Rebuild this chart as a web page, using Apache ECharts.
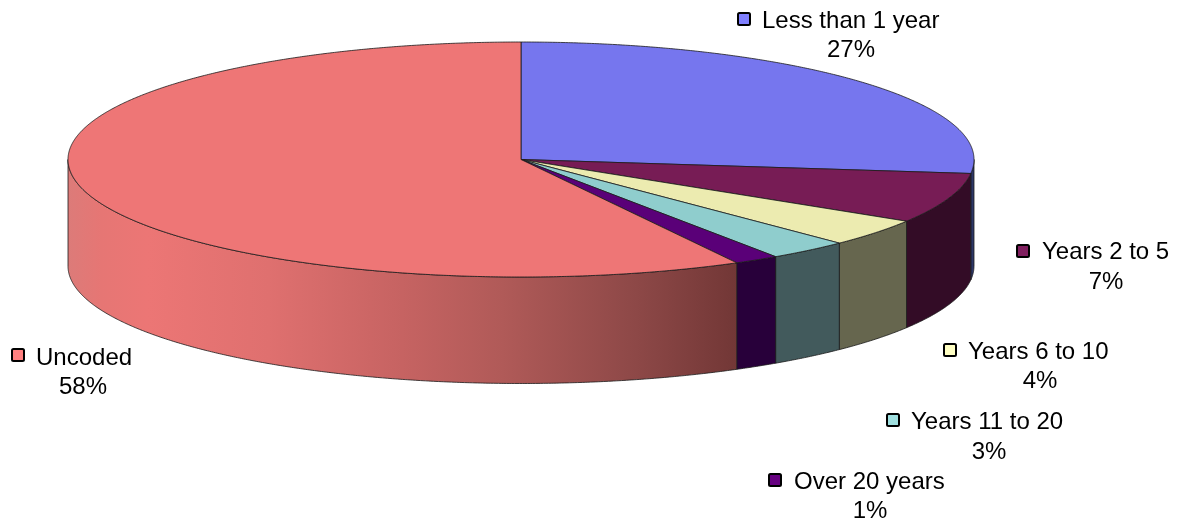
<!DOCTYPE html>
<html>
<head>
<meta charset="utf-8">
<style>html,body{margin:0;padding:0;background:#fff}#c{width:1182px;height:521px}</style>
<script src="https://cdn.jsdelivr.net/npm/echarts@6/dist/echarts.min.js"></script>
</head>
<body>
<div id="c"></div>
<script>
// Data
const categories = ['Less than 1 year', 'Years 2 to 5', 'Years 6 to 10', 'Years 11 to 20', 'Over 20 years', 'Uncoded'];
const shares = [26.9, 6.9, 3.8, 2.9, 1.6, 57.9];
const percentLabels = ['27%', '7%', '4%', '3%', '1%', '58%'];

// Styles and layout
const topColors = ['#7676ee', '#771c55', '#ecebb0', '#8fcdcd', '#5a0078', '#ee7676'];
const wallColors = ['#2d3768', '#330c26', '#66664e', '#425a5c', '#28003a', null];
const swatchColors = ['#8080ff', '#801f5f', '#ffffc4', '#a0e0e0', '#660080', '#ff8080'];
const labelSpots = [
  {sx: 737, sy: 12, tx: 762, ty: 21, px: 851, py: 50},
  {sx: 1016, sy: 244, tx: 1042, ty: 252, px: 1106, py: 282},
  {sx: 943, sy: 343, tx: 968, ty: 352, px: 1040, py: 381},
  {sx: 886, sy: 413, tx: 911, ty: 422, px: 989, py: 452},
  {sx: 768, sy: 473, tx: 794, ty: 482, px: 870, py: 511},
  {sx: 11, sy: 348, tx: 36, ty: 358, px: 83, py: 387}
];
const CX = 521, CY = 159.5, RX = 453, RY = 117.5, DEPTH = 106.5;
const EDGE = '#1a1a1a';
const FONT = '24px "Liberation Sans", Arial, sans-serif';

const total = shares.reduce((a, b) => a + b, 0);
const rows = [];
let running = 0;
shares.forEach((v, i) => { rows.push([i, v, running]); running += v; });

const pt = (deg, dy) => {
  const r = deg * Math.PI / 180;
  return [CX + RX * Math.sin(r), CY - RY * Math.cos(r) + (dy || 0)];
};
const arc = (a, b, dy) => {
  const out = [];
  const n = Math.max(2, Math.ceil((b - a) * 3));
  for (let k = 0; k <= n; k++) out.push(pt(a + (b - a) * k / n, dy));
  return out;
};
const span = (api) => {
  const v = api.value(1), s = api.value(2);
  return [s / total * 360, (s + v) / total * 360];
};

const uncodedWall = new echarts.graphic.LinearGradient(0, 0, 1, 0, [
  {offset: 0, color: '#dc7b79'},
  {offset: 0.05, color: '#e67674'},
  {offset: 0.12, color: '#ec7675'},
  {offset: 0.30, color: '#df706f'},
  {offset: 0.50, color: '#c66362'},
  {offset: 0.65, color: '#b05a58'},
  {offset: 0.85, color: '#8d4847'},
  {offset: 1, color: '#723736'}
]);

const renderWall = (params, api) => {
  const [a0, b0] = span(api);
  const a = Math.max(a0, 90), b = Math.min(b0, 270);
  if (b <= a) return {type: 'group', children: []};
  const i = api.value(0);
  const points = arc(a, b, 0).concat(arc(a, b, DEPTH).reverse());
  return {
    type: 'polygon',
    shape: {points},
    style: {fill: wallColors[i] || uncodedWall, stroke: EDGE, lineWidth: 0.8, lineJoin: 'round'}
  };
};

const renderTop = (params, api) => {
  const [a, b] = span(api);
  const i = api.value(0);
  const points = [[CX, CY]].concat(arc(a, b, 0));
  return {
    type: 'polygon',
    shape: {points},
    style: {fill: topColors[i], stroke: EDGE, lineWidth: 0.8, lineJoin: 'round'}
  };
};

const renderLabel = (params, api) => {
  const i = api.value(0);
  const p = labelSpots[i];
  return {
    type: 'group',
    children: [
      {type: 'rect', shape: {x: p.sx + 1, y: p.sy + 1, width: 12, height: 12, r: 1.5},
       style: {fill: swatchColors[i], stroke: '#000', lineWidth: 2}},
      {type: 'text', style: {x: p.tx, y: p.ty, text: categories[i], font: FONT, fill: '#000', align: 'left', verticalAlign: 'middle'}},
      {type: 'text', style: {x: p.px, y: p.py, text: percentLabels[i], font: FONT, fill: '#000', align: 'center', verticalAlign: 'middle'}}
    ]
  };
};

const chart = echarts.init(document.getElementById('c'), null, {renderer: 'canvas'});
chart.setOption({
  animation: false,
  backgroundColor: '#fff',
  dataset: {source: rows},
  series: [
    {type: 'custom', coordinateSystem: 'none', renderItem: renderWall, encode: {value: [1]}, silent: true, z: 1},
    {type: 'custom', coordinateSystem: 'none', renderItem: renderTop, encode: {value: [1]}, silent: true, z: 2},
    {type: 'custom', coordinateSystem: 'none', renderItem: renderLabel, encode: {value: [1]}, silent: true, z: 3}
  ]
});
</script>
</body>
</html>
